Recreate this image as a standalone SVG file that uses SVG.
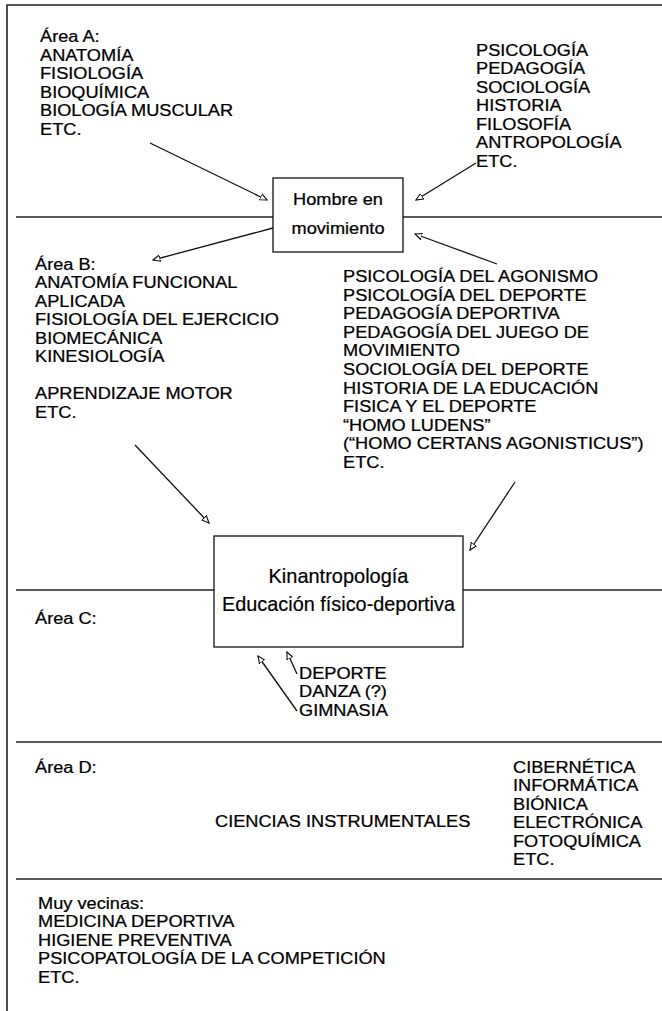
<svg xmlns="http://www.w3.org/2000/svg" width="662" height="1011" viewBox="0 0 662 1011">
<style>
.t{font-family:"Liberation Sans",Arial,sans-serif;font-size:16.4px;fill:#000;stroke:#000;stroke-width:0.25}
.c{text-anchor:middle}
.bx{font-family:"Liberation Sans",Arial,sans-serif;font-size:21px;fill:#000;stroke:#000;stroke-width:0.2;text-anchor:middle}
.rule{stroke:#222;stroke-width:1.6;fill:none}
.box{fill:#fff;stroke:#111;stroke-width:1.3}
.ar{stroke:#111;stroke-width:1.3;fill:none;marker-end:url(#ah)}
</style>
<defs>
<marker id="ah" viewBox="0 0 10 10" refX="9" refY="5" markerWidth="8" markerHeight="8" markerUnits="userSpaceOnUse" orient="auto">
<path d="M0,1 L9,5 L0,9 z" fill="#fff" stroke="#111" stroke-width="1.4"/>
</marker>
</defs>
<rect width="662" height="1011" fill="#fff"/>
<g id="frame">
<path class="rule" d="M7,1011 V5 H662"/>
<line class="rule" x1="16" y1="217" x2="662" y2="217"/>
<line class="rule" x1="16" y1="590" x2="662" y2="590"/>
<line class="rule" x1="16" y1="742" x2="662" y2="742"/>
<line class="rule" x1="16" y1="879" x2="662" y2="879"/>
</g>
<g id="connectors">
<line class="ar" x1="150" y1="143" x2="267" y2="200"/>
<line class="ar" x1="476" y1="163" x2="416" y2="200"/>
<line class="ar" x1="273" y1="228" x2="153" y2="260"/>
<line class="ar" x1="497" y1="264" x2="415" y2="234"/>
<line class="ar" x1="135" y1="445" x2="209" y2="523"/>
<line class="ar" x1="515" y1="482" x2="470" y2="550"/>
<line class="ar" x1="297" y1="711" x2="258" y2="656"/>
<line class="ar" x1="297" y1="674" x2="287" y2="652"/>
</g>
<g id="areaA" transform="translate(40 0) scale(1.11 1)">
<text class="t" x="0" y="42">Área A:</text>
<text class="t" x="0" y="60.6">ANATOMÍA</text>
<text class="t" x="0" y="79.2">FISIOLOGÍA</text>
<text class="t" x="0" y="97.8">BIOQUÍMICA</text>
<text class="t" x="0" y="116.4">BIOLOGÍA MUSCULAR</text>
<text class="t" x="0" y="135">ETC.</text>
</g>
<g id="areaA-right" transform="translate(476 0) scale(1.11 1)">
<text class="t" x="0" y="56">PSICOLOGÍA</text>
<text class="t" x="0" y="74.5">PEDAGOGÍA</text>
<text class="t" x="0" y="93">SOCIOLOGÍA</text>
<text class="t" x="0" y="111.5">HISTORIA</text>
<text class="t" x="0" y="130">FILOSOFÍA</text>
<text class="t" x="0" y="148.5">ANTROPOLOGÍA</text>
<text class="t" x="0" y="167">ETC.</text>
</g>
<g id="hombre">
<rect class="box" x="273" y="178" width="130" height="74"/>
<g transform="translate(338 0) scale(1.11 1)">
<text class="t c" x="0" y="205">Hombre en</text>
<text class="t c" x="0" y="234">movimiento</text>
</g>
</g>
<g id="areaB" transform="translate(35 0) scale(1.11 1)">
<text class="t" x="0" y="270">Área B:</text>
<text class="t" x="0" y="288.5">ANATOMÍA FUNCIONAL</text>
<text class="t" x="0" y="307">APLICADA</text>
<text class="t" x="0" y="325.5">FISIOLOGÍA DEL EJERCICIO</text>
<text class="t" x="0" y="344">BIOMECÁNICA</text>
<text class="t" x="0" y="362.5">KINESIOLOGÍA</text>
<text class="t" x="0" y="399.5">APRENDIZAJE MOTOR</text>
<text class="t" x="0" y="418">ETC.</text>
</g>
<g id="areaB-right" transform="translate(343 0) scale(1.11 1)">
<text class="t" x="0" y="282">PSICOLOGÍA DEL AGONISMO</text>
<text class="t" x="0" y="300.6">PSICOLOGÍA DEL DEPORTE</text>
<text class="t" x="0" y="319.2">PEDAGOGÍA DEPORTIVA</text>
<text class="t" x="0" y="337.8">PEDAGOGÍA DEL JUEGO DE</text>
<text class="t" x="0" y="356.4">MOVIMIENTO</text>
<text class="t" x="0" y="375">SOCIOLOGÍA DEL DEPORTE</text>
<text class="t" x="0" y="393.6">HISTORIA DE LA EDUCACIÓN</text>
<text class="t" x="0" y="412.2">FISICA Y EL DEPORTE</text>
<text class="t" x="0" y="430.8">“HOMO LUDENS”</text>
<text class="t" x="0" y="449.4">(“HOMO CERTANS AGONISTICUS”)</text>
<text class="t" x="0" y="468">ETC.</text>
</g>
<g id="kinantropologia">
<rect class="box" x="214" y="536" width="249" height="111"/>
<text class="bx" x="338.5" y="583" textLength="140" lengthAdjust="spacingAndGlyphs">Kinantropología</text>
<text class="bx" x="338.5" y="611" textLength="233" lengthAdjust="spacingAndGlyphs">Educación físico-deportiva</text>
</g>
<g id="areaC">
<g transform="translate(35 0) scale(1.11 1)">
<text class="t" x="0" y="624">Área C:</text>
</g>
<g transform="translate(299 0) scale(1.11 1)">
<text class="t" x="0" y="679">DEPORTE</text>
<text class="t" x="0" y="697.5">DANZA (?)</text>
<text class="t" x="0" y="716">GIMNASIA</text>
</g>
</g>
<g id="areaD">
<g transform="translate(35 0) scale(1.11 1)">
<text class="t" x="0" y="773">Área D:</text>
</g>
<g transform="translate(215 0) scale(1.11 1)">
<text class="t" x="0" y="827">CIENCIAS INSTRUMENTALES</text>
</g>
<g transform="translate(513 0) scale(1.11 1)">
<text class="t" x="0" y="773">CIBERNÉTICA</text>
<text class="t" x="0" y="791.5">INFORMÁTICA</text>
<text class="t" x="0" y="810">BIÓNICA</text>
<text class="t" x="0" y="828.5">ELECTRÓNICA</text>
<text class="t" x="0" y="847">FOTOQUÍMICA</text>
<text class="t" x="0" y="865.5">ETC.</text>
</g>
</g>
<g id="vecinas" transform="translate(38 0) scale(1.11 1)">
<text class="t" x="0" y="909">Muy vecinas:</text>
<text class="t" x="0" y="927.5">MEDICINA DEPORTIVA</text>
<text class="t" x="0" y="946">HIGIENE PREVENTIVA</text>
<text class="t" x="0" y="964.5">PSICOPATOLOGÍA DE LA COMPETICIÓN</text>
<text class="t" x="0" y="983">ETC.</text>
</g>
</svg>
